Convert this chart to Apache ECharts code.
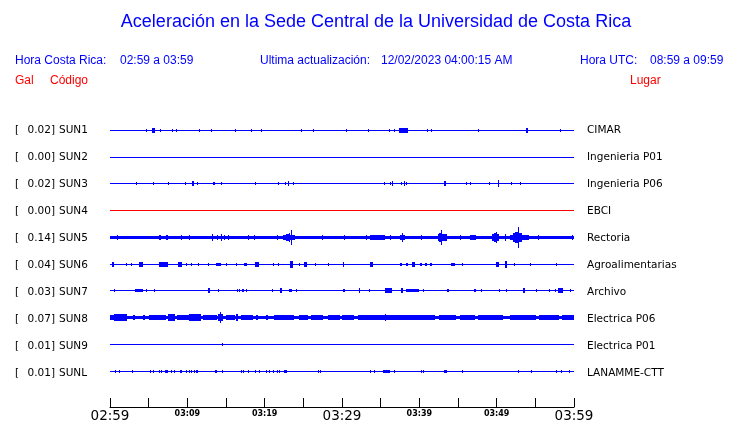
<!DOCTYPE html>
<html><head><meta charset="utf-8">
<script src="https://cdn.jsdelivr.net/npm/echarts@6/dist/echarts.min.js"></script>
<style>html,body{margin:0;padding:0;background:#fff}#c{width:740px;height:423px}</style>
</head><body><div id="c"></div>
<script>
// ---------------- DATA ----------------
const stations = ['SUN1','SUN2','SUN3','SUN4','SUN5','SUN6','SUN7','SUN8','SUN9','SUNL'];
const places = ['CIMAR','Ingenieria P01','Ingenieria P06','EBCI','Rectoria','Agroalimentarias','Archivo','Electrica P06','Electrica P01','LANAMME-CTT'];
const peakGal = ['0.02','0.00','0.02','0.00','0.14','0.04','0.03','0.07','0.01','0.01'];
// continuous background noise level (gal) for each trace
const noiseGal = [0,0,0,0,0.02,0,0,0.018,0,0];
// x tick labels (every 10 minutes starting 02:59)
const tickLabels = ['02:59','03:09','03:19','03:29','03:39','03:49','03:59'];
// events: [minute after 02:59, half amplitude (gal), duration (min)]
const evSUN1 = [[4.68,0.018,0],[5.4,0.024,0.4],[6.49,0.015,0],[7.99,0.018,0],[8.47,0.018,0],[11.48,0.012,0],[13.03,0.012,0],[16.14,0.012,0],[18.17,0.018,0],[19.5,0.012,0],[24.67,0.018,0],[26.22,0.018,0],[30.54,0.012,0],[33.33,0.018,0],[36.05,0.018,0],[36.7,0.018,0],[37.43,0.024,1.12],[40.96,0.018,0],[41.57,0.018,0],[47.56,0.018,0],[53.82,0.024,0.2],[58.16,0.012,0]];
const evSUN2 = [];
const evSUN3 = [[3.39,0.012,0],[5.53,0.012,0],[7.47,0.012,0],[9.67,0.012,0],[10.63,0.022,0.2],[11.22,0.018,0],[13.29,0.018,0],[13.51,0.018,0],[14.38,0.012,0],[18.69,0.018,0],[21.7,0.018,0],[22.69,0.018,0],[23.04,0.024,0.15],[23.64,0.018,0],[35.41,0.018,0],[36.27,0.018,0],[36.49,0.024,0.1],[37.66,0.018,0],[38.08,0.024,0.1],[38.3,0.018,0],[43.13,0.024,0.2],[46.06,0.018,0],[46.49,0.018,0],[48.98,0.018,0],[50.2,0.035,0],[51.79,0.018,0],[53.05,0.018,0]];
const evSUN4 = [];
const evSUN5 = [[0.88,0.03,0],[6.31,0.032,0.3],[7.27,0.032,0.3],[9.21,0.03,0],[10.19,0.03,0],[13.16,0.035,0],[13.81,0.03,0],[14.38,0.035,0],[14.68,0.03,0],[15.23,0.03,0],[17.82,0.03,0],[18.56,0.03,0],[21.57,0.03,0],[22.31,0.03,1.5],[22.7,0.045,0.5],[23.1,0.06,0],[23.43,0.095,0],[27.39,0.03,0],[30.32,0.03,0],[33.13,0.03,0],[33.56,0.03,1.9],[36.27,0.03,0],[37.5,0.03,0.6],[37.82,0.05,0],[40.24,0.03,0],[42.35,0.035,1.0],[42.6,0.05,0.4],[42.83,0.095,0],[43.47,0.035,0],[45.2,0.03,0],[46.49,0.03,0.8],[49.46,0.035,0.9],[49.7,0.05,0.3],[49.94,0.07,0],[51.02,0.035,0],[51.66,0.03,2.3],[52.05,0.05,1.15],[52.4,0.07,0.4],[52.74,0.14,0],[54.03,0.03,0],[55.32,0.03,0],[59.77,0.03,0]];
const evSUN6 = [[0.28,0.025,0.2],[2.09,0.02,0.1],[2.74,0.02,0.1],[3.81,0.025,0.5],[6.31,0.03,1.2],[8.77,0.025,0.55],[9.85,0.02,0.1],[10.5,0.02,0.1],[11.35,0.02,0.1],[12.65,0.02,0.15],[13.73,0.02,0.65],[14.94,0.015,0],[16.23,0.01,0],[17.39,0.02,0.45],[18.69,0.03,0.55],[21.05,0.02,0.1],[21.7,0.02,0.1],[23.3,0.045,0.35],[24.5,0.02,0.15],[25.15,0.025,0.45],[26.45,0.02,0.15],[28.17,0.015,0],[30.1,0.025,0.15],[33.56,0.025,0.4],[37.44,0.02,0.2],[38.3,0.02,0.3],[39.1,0.025,0.4],[40.1,0.02,0.2],[40.67,0.02,0.2],[41.32,0.02,0.2],[44.12,0.02,0.55],[45.55,0.015,0],[49.94,0.03,0.4],[51.02,0.035,0.2],[52.18,0.015,0],[54.34,0.015,0],[57.61,0.015,0]];
const evSUN7 = [[0.49,0.015,0],[3.17,0.02,1.0],[4.68,0.02,0],[5.75,0.02,0],[12.65,0.025,0.3],[14.03,0.015,0],[16.4,0.015,0],[16.66,0.015,0],[17.04,0.02,0.3],[17.61,0.015,0],[20.97,0.01,0],[21.92,0.025,0.2],[23.21,0.02,0.45],[24.08,0.015,0.1],[30.1,0.02,0.2],[32.17,0.025,0.15],[33.47,0.015,0],[35.5,0.025,0.85],[37.66,0.03,0.2],[38.3,0.02,1.7],[40.45,0.015,0],[43.6,0.02,0.3],[47.05,0.02,0.2],[48.0,0.015,0],[50.28,0.015,0],[51.24,0.015,0],[53.38,0.03,0.25],[55.12,0.01,0],[56.83,0.015,0],[57.48,0.015,0],[57.91,0.025,0.65],[59.42,0.015,0]];
const evSUN8 = [[0.0,0.028,0.5],[0.58,0.035,1.7],[2.95,0.03,0.2],[4.24,0.03,0.2],[5.0,0.028,2.2],[7.47,0.035,0.9],[8.6,0.028,1.5],[10.28,0.035,1.5],[10.6,0.045,0.8],[12.0,0.028,1.8],[13.94,0.04,0.65],[14.16,0.07,0],[15.0,0.028,1.2],[16.32,0.035,0.2],[17.0,0.028,1.5],[18.9,0.03,0.3],[20.2,0.03,0.3],[21.27,0.028,2.6],[24.5,0.028,1.2],[26.0,0.028,1.5],[28.17,0.03,1.5],[30.0,0.028,1.5],[32.05,0.03,1.5],[33.56,0.03,8.4],[35.5,0.04,0],[42.6,0.028,2.15],[45.2,0.028,1.95],[47.56,0.028,3.2],[51.66,0.028,3.4],[55.5,0.028,2.55],[58.5,0.03,1.5]];
const evSUN9 = [[14.46,0.015,0.1]];
const evSUNL = [[0.71,0.015,0],[1.14,0.015,0],[2.87,0.01,0],[5.2,0.01,0],[5.53,0.015,0],[6.31,0.015,0],[6.62,0.015,0],[7.05,0.02,0.45],[7.91,0.015,0],[8.34,0.015,0],[8.99,0.02,0.2],[9.85,0.015,0],[10.19,0.015,0],[10.5,0.015,0],[10.8,0.015,0],[11.15,0.02,0.3],[13.64,0.02,0.3],[14.51,0.015,0],[16.97,0.015,0],[17.26,0.015,0],[17.82,0.015,0],[18.69,0.015,0],[19.33,0.015,0],[20.2,0.015,0],[20.62,0.015,0],[21.05,0.015,0],[21.57,0.015,0],[21.83,0.015,0],[22.56,0.02,0.45],[26.87,0.015,0],[27.18,0.015,0],[33.56,0.015,0.1],[34.2,0.015,0],[35.28,0.02,0.85],[36.66,0.015,0],[40.24,0.01,0],[40.45,0.01,0],[43.13,0.02,0.45],[45.55,0.015,0],[52.73,0.015,0],[54.47,0.015,0],[57.7,0.015,0],[58.35,0.015,0],[59.33,0.015,0]];
const events = [evSUN1,evSUN2,evSUN3,evSUN4,evSUN5,evSUN6,evSUN7,evSUN8,evSUN9,evSUNL];

// ---------------- STYLE ----------------
const BLUE = '#0000ff', RED = '#ff0000';
const traceColors = [BLUE,BLUE,BLUE,RED,BLUE,BLUE,BLUE,BLUE,BLUE,BLUE];
const GAIN = 2.75;            // rows per gal
const ROW_PX = 27;
const GRID_TOP = 103.5, GRID_H = 306;
const YMAX = GRID_H / ROW_PX;
const SANS = '"Liberation Sans", Arial, sans-serif';
const DV = '"DejaVu Sans", sans-serif';

const chart = echarts.init(document.getElementById('c'), null, {renderer:'canvas'});

const series = [];
stations.forEach((s, i) => {
  const row = i + 1;
  const color = traceColors[i];
  const rects = [[0, row, 0, 60]];   // baseline of the trace
  if (noiseGal[i] > 0) rects.push([0, row, noiseGal[i], 60]);
  events[i].forEach(e => rects.push([e[0], row, e[1], e[2]]));
  series.push({
    type:'custom', name:s, data:rects, animation:false, silent:true, z:3,
    renderItem:(params, api) => {
      const t = api.value(0), r = api.value(1), a = api.value(2), d = api.value(3);
      const c = api.coord([t, r]);
      const p1 = api.coord([Math.min(60, t + d), r + a*GAIN]);
      const half = Math.round(Math.abs(p1[1]-c[1]));
      const x = Math.round(c[0]);
      const w = Math.max(1, Math.round(p1[0] - c[0]));
      const cyPix = Math.floor(c[1]);
      return {type:'rect', shape:{x, y:cyPix - half, width:w, height:2*half + 1}, style:{fill:color}};
    }
  });
});

const graphics = [];
function txt(text, x, y, font, fill, align) {
  graphics.push({type:'text', x, y, silent:true, style:{text, font, fill, textAlign:align||'left', textVerticalAlign:'middle', verticalAlign:'middle'}});
}
txt('Aceleración en la Sede Central de la Universidad de Costa Rica', 376, 22, '18px '+SANS, BLUE, 'center');
txt('Hora Costa Rica:', 15, 61, '12px '+SANS, BLUE);
txt('02:59 a 03:59', 120, 61, '12px '+SANS, BLUE);
txt('Ultima actualización:', 260, 61, '12px '+SANS, BLUE);
txt('12/02/2023 04:00:15 AM', 381, 61, '12px '+SANS, BLUE);
txt('Hora UTC:', 580, 61, '12px '+SANS, BLUE);
txt('08:59 a 09:59', 650, 61, '12px '+SANS, BLUE);
txt('Gal', 15, 81, '12px '+SANS, RED);
txt('Código', 50, 81, '12px '+SANS, RED);
txt('Lugar', 630, 81, '12px '+SANS, RED);
stations.forEach((s, i) => {
  const y = GRID_TOP + ROW_PX*(i+1);
  txt('[', 15, y, '10.5px '+DV, '#000');
  txt(peakGal[i] + ']', 55, y, '10.5px '+DV, '#000', 'right');
  txt(s, 59, y, '10.5px '+DV, '#000');
  txt(places[i], 587, y, '10.5px '+DV, '#000');
});

chart.setOption({
  backgroundColor:'#fff',
  animation:false,
  grid:{left:110, width:464, top:GRID_TOP, height:GRID_H},
  xAxis:{
    type:'value', min:0, max:60, interval:5, position:'bottom',
    axisLine:{show:true, onZero:false, lineStyle:{color:'#000', width:1}},
    axisTick:{show:true, inside:true, length:9, lineStyle:{color:'#000', width:1}},
    splitLine:{show:false},
    axisLabel:{
      margin:2, showMinLabel:true, showMaxLabel:true,
      formatter:(v) => {
        if (v % 10 !== 0) return '';
        const k = v/10;
        return (k % 3 === 0 ? '{b|' : '{s|') + tickLabels[k] + '}';
      },
      rich:{
        b:{fontFamily:DV, fontSize:13.5, color:'#000', lineHeight:14},
        s:{fontFamily:DV, fontSize:8, fontWeight:'bold', color:'#000', lineHeight:10}
      }
    }
  },
  yAxis:{type:'value', min:0, max:YMAX, inverse:true, show:false},
  series,
  graphic:graphics
});
</script></body></html>
